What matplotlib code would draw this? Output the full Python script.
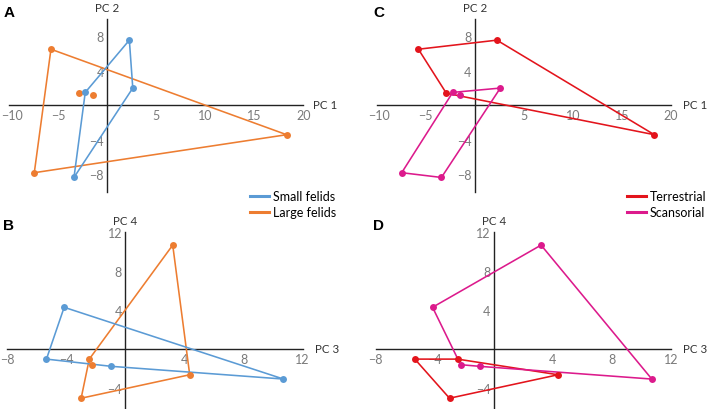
import matplotlib
matplotlib.use("Agg")
import matplotlib.pyplot as plt
from matplotlib.lines import Line2D

plt.rcParams['font.family'] = ['Lato', 'DejaVu Sans']

# ---------------- data (one entry per species) ----------------
pc1 = [-5.75, 2.25, 18.3, -2.9, -2.25, -1.5, 2.6, -3.4, -7.45]
pc2 = [6.5, 7.55, -3.4, 1.4, 1.5, 1.2, 2.0, -8.35, -7.8]
pc3 = [4.35, -5.35, -3.0, -2.45, -4.15, 3.2, -0.95, 10.7, -2.25]
pc4 = [-2.6, -1.0, -5.0, -1.0, 4.3, 10.66, -1.74, -3.04, -1.57]
body_size = ["Large felids", "Small felids", "Large felids", "Large felids",
             "Small felids", "Large felids", "Small felids", "Small felids",
             "Large felids"]
habit = ["Terrestrial", "Terrestrial", "Terrestrial", "Terrestrial",
         "Scansorial", "Scansorial", "Scansorial", "Scansorial", "Scansorial"]

size_groups = ["Large felids", "Small felids"]
habit_groups = ["Terrestrial", "Scansorial"]
colors = {"Small felids": "#5b9bd5", "Large felids": "#ed7d31",
          "Terrestrial": "#e3141c", "Scansorial": "#dc1a8c"}

x_ticks_12 = [-10, -5, 5, 10, 15, 20]
y_ticks_12 = [-8, -4, 4, 8]
x_ticks_34 = [-8, -4, 4, 8, 12]
y_ticks_34 = [-4, 4, 8, 12]

W, H = 709, 410


def fmt(v):
    return "\u2212%d" % -v if v < 0 else str(v)


def hull(points):
    pts = sorted(set(points))
    if len(pts) < 3:
        return pts

    def cross(o, a, b):
        return (a[0] - o[0]) * (b[1] - o[1]) - (a[1] - o[1]) * (b[0] - o[0])
    lower, upper = [], []
    for p in pts:
        while len(lower) >= 2 and cross(lower[-2], lower[-1], p) <= 0:
            lower.pop()
        lower.append(p)
    for p in reversed(pts):
        while len(upper) >= 2 and cross(upper[-2], upper[-1], p) <= 0:
            upper.pop()
        upper.append(p)
    return lower[:-1] + upper[:-1]


def rect(x0, x1, yt, yb):
    return [x0 / W, 1 - yb / H, (x1 - x0) / W, (yb - yt) / H]


fig = plt.figure(figsize=(W / 100, H / 100), dpi=100)

panels = [
    ("A", rect(9.3, 303.3, 20, 192.7), pc1, pc2, body_size, size_groups,
     (-10, 20), (-10, 10), x_ticks_12, y_ticks_12, "PC 1", "PC 2", 7),
    ("B", rect(7.3, 302.7, 233, 409), pc3, pc4, body_size, size_groups,
     (-8, 12), (-6, 12), x_ticks_34, y_ticks_34, "PC 3", "PC 4", 9),
    ("C", rect(376.7, 671, 20, 192.7), pc1, pc2, habit, habit_groups,
     (-10, 20), (-10, 10), x_ticks_12, y_ticks_12, "PC 1", "PC 2", 8.5),
    ("D", rect(375.7, 671, 233, 409), pc3, pc4, habit, habit_groups,
     (-8, 12), (-6, 12), x_ticks_34, y_ticks_34, "PC 3", "PC 4", 8.5),
]

for (letter, r, xs, ys, grp, groups, xl, yl, xt, yt, xlab, ylab, gap) in panels:
    ax = fig.add_axes(r)
    ax.set_xlim(*xl)
    ax.set_ylim(*yl)
    ax.patch.set_alpha(0)
    for s in ("top", "right"):
        ax.spines[s].set_visible(False)
    ax.spines["left"].set_position(("data", 0))
    ax.spines["bottom"].set_position(("data", 0))
    for s in ("left", "bottom"):
        ax.spines[s].set_color("#222222")
        ax.spines[s].set_linewidth(1.0)
    ax.set_xticks(xt)
    ax.set_yticks(yt)
    xlabels = [fmt(v) for v in xt]
    edge_label = None
    if xt[0] == xl[0] and len(fmt(xt[0])) > 2:
        edge_label = xlabels[0]
        xlabels[0] = ""
    ax.set_xticklabels(xlabels)
    ax.set_yticklabels([fmt(v) for v in yt])
    ax.tick_params(length=0, labelsize=9, colors="#7a7a7a", pad=2.5)
    if edge_label:
        ax.annotate(edge_label, xy=(xt[0], 0), xycoords="data",
                    xytext=(1.8, -2.5), textcoords="offset points",
                    ha="center", va="top", fontsize=9, color="#7a7a7a",
                    annotation_clip=False)
    for g in groups:
        pts = [(x, y) for x, y, gg in zip(xs, ys, grp) if gg == g]
        h = hull(pts)
        hx = [p[0] for p in h] + [h[0][0]]
        hy = [p[1] for p in h] + [h[0][1]]
        ax.plot(hx, hy, color=colors[g], lw=1.15, zorder=3, clip_on=False)
        ax.plot([p[0] for p in pts], [p[1] for p in pts], "o",
                color=colors[g], ms=5, mec="none", zorder=4, clip_on=False)
    ax.annotate(xlab, xy=(1, 0), xycoords=("axes fraction", "data"),
                xytext=(gap, 0.5), textcoords="offset points", ha="left",
                va="center", fontsize=8.3, color="#333333")
    ax.annotate(ylab, xy=(0, 1), xycoords=("data", "axes fraction"),
                xytext=(0, 4), textcoords="offset points", ha="center",
                va="bottom", fontsize=8.3, color="#333333")

letters = {"A": (4, 13), "B": (3, 226), "C": (373, 13), "D": (373, 226)}
for k, (px, py) in letters.items():
    fig.text(px / W, 1 - py / H, k, fontsize=11, fontweight="bold",
             family="Liberation Sans", ha="left", va="center")

# legends
for (labels, x0) in ((["Small felids", "Large felids"], 249),
                     (["Terrestrial", "Scansorial"], 626)):
    handles = [Line2D([0], [0], color=colors[l], lw=2.2) for l in labels]
    fig.legend(handles, labels, loc="upper left",
               bbox_to_anchor=(x0 / W - 0.011, 1 - 182.5 / H),
               frameon=False, fontsize=9, handlelength=1.55,
               handletextpad=0.3, labelspacing=0.3, borderpad=0.2)

fig.savefig("out.png", dpi=100)
